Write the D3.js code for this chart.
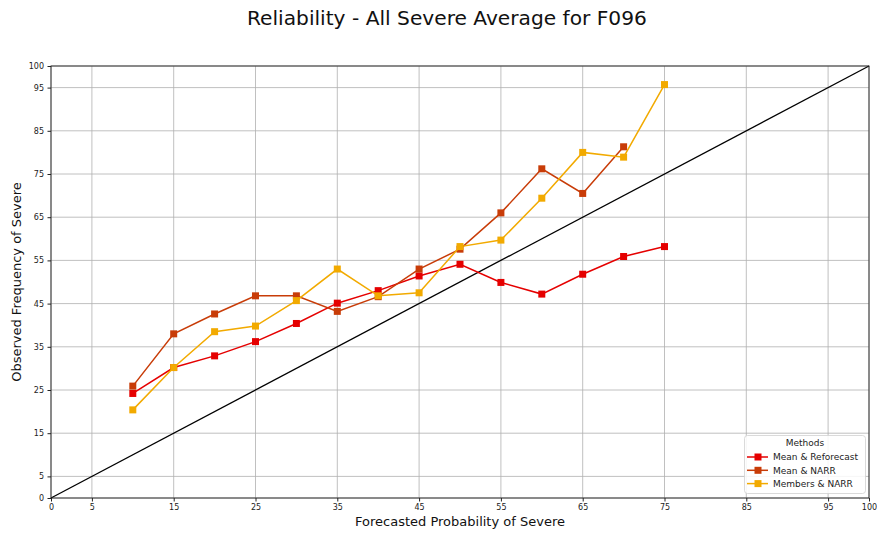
<!DOCTYPE html>
<html><head><meta charset="utf-8">
<script src="https://cdn.jsdelivr.net/npm/d3@7"></script>
<style>body{margin:0;background:#fff}svg{display:block}text{font-family:"DejaVu Sans",sans-serif}</style>
</head><body><svg id="c" width="877" height="533"></svg>
<script>
const title = "Reliability - All Severe Average for F096";
const xLabel = "Forecasted Probability of Severe";
const yLabel = "Observed Frequency of Severe";
const xTicks = [0,5,15,25,35,45,55,65,75,85,95,100];
const yTicks = [0,5,15,25,35,45,55,65,75,85,95,100];
const legendTitle = "Methods";
const seriesNames = ["Mean & Reforecast","Mean & NARR","Members & NARR"];
const seriesColors = ["#e50000","#c83c08","#f2aa00"];
const xRef = [10,15,20,25,30,35,40,45,50,55,60,65,70,75];
const yRef = [24.2,30.2,32.9,36.2,40.4,45.1,48.0,51.4,54.1,49.9,47.2,51.8,55.9,58.2];
const xNarr = [10,15,20,25,30,35,40,45,50,55,60,65,70];
const yNarr = [25.9,38.0,42.6,46.8,46.8,43.2,46.6,53.0,57.6,66.0,76.2,70.5,81.3];
const xMem = [10,15,20,25,30,35,40,45,50,55,60,65,70,75];
const yMem = [20.4,30.2,38.5,39.8,45.7,53.0,46.8,47.5,58.2,59.7,69.4,80.0,78.9,95.7];
const perfect = [[0,0],[100,100]];

const svg = d3.select("#c");
const L=51,R=869,T=66,B=498;
const x = d3.scaleLinear().domain([0,100]).range([L,R]);
const y = d3.scaleLinear().domain([0,100]).range([B,T]);

// grid
const g = svg.append("g");
g.selectAll(".gx").data(xTicks).enter().append("line")
 .attr("x1",d=>x(d)).attr("x2",d=>x(d)).attr("y1",T).attr("y2",B)
 .attr("stroke","#b0b0b0").attr("stroke-width",0.8);
g.selectAll(".gy").data(yTicks).enter().append("line")
 .attr("y1",d=>y(d)).attr("y2",d=>y(d)).attr("x1",L).attr("x2",R)
 .attr("stroke","#b0b0b0").attr("stroke-width",0.8);

// perfect line
svg.append("path").datum(perfect)
 .attr("d",d3.line().x(d=>x(d[0])).y(d=>y(d[1])))
 .attr("stroke","#000").attr("stroke-width",1.3).attr("fill","none");

// series
const data = [
  xRef.map((v,i)=>[v,yRef[i]]),
  xNarr.map((v,i)=>[v,yNarr[i]]),
  xMem.map((v,i)=>[v,yMem[i]])
];
const line = d3.line().x(d=>x(d[0])).y(d=>y(d[1]));
data.forEach((s,k)=>{
  svg.append("path").datum(s).attr("d",line).attr("fill","none")
   .attr("stroke",seriesColors[k]).attr("stroke-width",1.5);
  svg.selectAll(".m"+k).data(s).enter().append("rect")
   .attr("x",d=>x(d[0])-3.5).attr("y",d=>y(d[1])-3.5).attr("width",7).attr("height",7)
   .attr("fill",seriesColors[k]);
});

// axes
const xa = svg.append("g").attr("transform",`translate(0,${B})`)
 .call(d3.axisBottom(x).tickValues(xTicks).tickSize(3.5).tickPadding(3).tickFormat(d3.format("d")));
const ya = svg.append("g").attr("transform",`translate(${L},0)`)
 .call(d3.axisLeft(y).tickValues(yTicks).tickSize(3.5).tickPadding(3.5).tickFormat(d3.format("d")));
[xa,ya].forEach(a=>{a.select(".domain").remove();a.selectAll("text").attr("font-size",8).attr("fill","#222").attr("font-family","DejaVu Sans");a.selectAll("line").attr("stroke","#222");});
// spines
svg.append("rect").attr("x",L).attr("y",T).attr("width",R-L).attr("height",B-T)
 .attr("fill","none").attr("stroke","#222").attr("stroke-width",0.9);

// labels
const tt = svg.append("text").attr("x",247).attr("y",25)
 .attr("font-size",20).attr("fill","#111").text(title);
const tw = tt.node().getComputedTextLength();
tt.attr("font-size",20*400/tw);
svg.append("text").attr("x",(L+R)/2).attr("y",526).attr("text-anchor","middle")
 .attr("font-size",13).attr("fill","#111").text(xLabel);
svg.append("text").attr("transform",`translate(21,${(T+B)/2}) rotate(-90)`).attr("text-anchor","middle")
 .attr("font-size",13).attr("fill","#111").text(yLabel);

// legend
const lg = svg.append("g");
lg.append("rect").attr("x",744.5).attr("y",435.5).attr("width",121).attr("height",58).attr("rx",3)
 .attr("fill","#fff").attr("fill-opacity",0.85).attr("stroke","#d0d0d0").attr("stroke-width",0.8);
lg.append("text").attr("x",805).attr("y",446).attr("text-anchor","middle").attr("font-size",9).attr("fill","#222").text(legendTitle);
seriesNames.forEach((n,i)=>{
  const yy = 457+i*13.3;
  lg.append("line").attr("x1",747).attr("x2",768).attr("y1",yy).attr("y2",yy).attr("stroke",seriesColors[i]).attr("stroke-width",1.5);
  lg.append("rect").attr("x",754.5).attr("y",yy-3.5).attr("width",7).attr("height",7).attr("fill",seriesColors[i]);
  lg.append("text").attr("x",773).attr("y",yy+3.2).attr("font-size",9).attr("fill","#222").text(n);
});
</script></body></html>
